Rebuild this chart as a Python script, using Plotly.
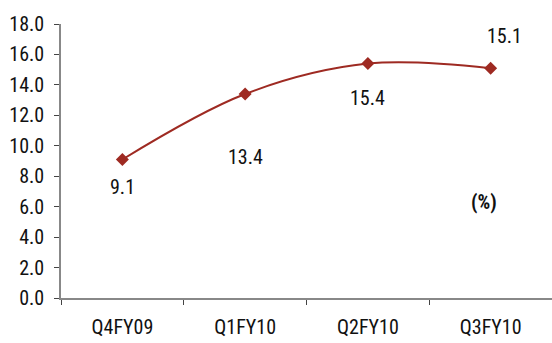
import plotly.graph_objects as go

quarters = ["Q4FY09", "Q1FY10", "Q2FY10", "Q3FY10"]
growth = [9.1, 13.4, 15.4, 15.1]
y_ticks = [0, 2, 4, 6, 8, 10, 12, 14, 16, 18]

FONT = "Liberation Sans Narrow, Arial Narrow, Roboto Condensed, sans-serif"
LINE_COLOR = "#9E2A22"
FS = 20

fig = go.Figure()
fig.add_trace(go.Scatter(
    x=quarters, y=growth,
    mode="lines+markers",
    line=dict(color=LINE_COLOR, width=2, shape="spline", smoothing=1.0),
    marker=dict(symbol="diamond", size=10, color=LINE_COLOR),
    hoverinfo="skip",
))

# value labels: (xshift, yshift) in pixels from each point
label_offsets = [(0, -28), (0, -63), (0, -34), (14, 32)]
for q, v, (dx, dy) in zip(quarters, growth, label_offsets):
    fig.add_annotation(x=q, y=v, xref="x", yref="y", text=f"{v:.1f}",
                       showarrow=False, xshift=dx, yshift=dy,
                       font=dict(family=FONT, size=FS, color="#111111"))

fig.add_annotation(x=3, y=6.3, xref="x", yref="y", text="<b>(%)</b>",
                   showarrow=False, xshift=-7,
                   font=dict(family=FONT, size=FS, color="#111111"))

fig.update_layout(
    width=552, height=343,
    margin=dict(l=61, r=0, t=24, b=45),
    paper_bgcolor="white", plot_bgcolor="white",
    showlegend=False,
    font=dict(family=FONT, size=FS, color="#111111"),
)
fig.update_xaxes(
    type="category", tickson="boundaries",
    showline=True, linecolor="#888888", linewidth=1.5,
    ticks="outside", ticklen=5, tickcolor="#444444",
    showgrid=False, zeroline=False,
    range=[-0.5, 3.5], ticklabelstandoff=10,
    tickfont=dict(family=FONT, size=FS),
)
fig.update_yaxes(
    range=[0, 18], tickvals=y_ticks,
    ticktext=[f"{t:.1f}" for t in y_ticks],
    showline=True, linecolor="#888888", linewidth=1.5,
    ticks="outside", ticklen=5, tickcolor="#444444",
    showgrid=False, zeroline=False, ticklabelstandoff=6,
    tickfont=dict(family=FONT, size=FS),
)

fig.write_html("out.html")
